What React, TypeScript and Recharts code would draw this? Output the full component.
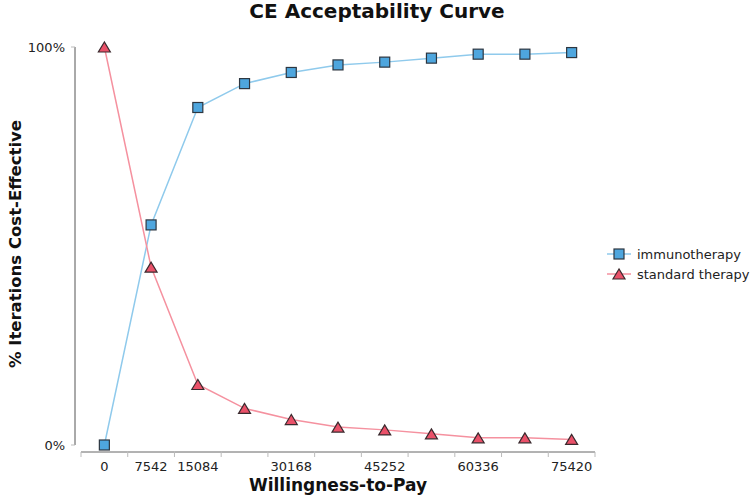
import { LineChart, Line, XAxis, YAxis, Legend, Label } from "recharts";

const WTP = [0, 7542, 15084, 22626, 30168, 37710, 45252, 52794, 60336, 67878, 75420];
const IMMUNOTHERAPY = [0, 55.3, 84.8, 90.8, 93.6, 95.5, 96.2, 97.2, 98.2, 98.2, 98.6];
const STANDARD_THERAPY = [100, 44.7, 15.2, 9.2, 6.4, 4.5, 3.8, 2.8, 1.8, 1.8, 1.4];
const SHOWN_TICKS = [0, 7542, 15084, 30168, 45252, 60336, 75420];
const Y_TICKS = [0, 100];

const chartData = WTP.map((wtp, i) => ({
    wtp,
    immunotherapy: IMMUNOTHERAPY[i],
    standard: STANDARD_THERAPY[i],
}));

const FONT = "'DejaVu Sans', Verdana, sans-serif";
const BLUE_FILL = "#4ea6de";
const BLUE_LINE = "#8fcaec";
const RED_FILL = "#ea5169";
const RED_LINE = "#f5919f";
const STEP = 514 / 11; // band width on the x axis

const square = (cx: number, cy: number, key?: string) => (
    <rect key={key} x={cx - 5} y={cy - 5} width={10} height={10} fill={BLUE_FILL} stroke="#2d3640" strokeWidth={1.2} />
);

const triangle = (cx: number, cy: number, key?: string) => (
    <polygon
        key={key}
        points={`${cx},${cy - 5} ${cx - 6},${cy + 5} ${cx + 6},${cy + 5}`}
        fill={RED_FILL}
        stroke="#3a2a2e"
        strokeWidth={1.2}
    />
);

const XTick = (props: any) => {
    const { x, y, payload, index } = props;
    const half = STEP / 2;
    const base = y + 7;
    return (
        <g>
            <line x1={x - half} x2={x + half} y1={base} y2={base} stroke="#666" />
            <line x1={x - half} x2={x - half} y1={base} y2={base + 5} stroke="#bbb" />
            {index === WTP.length - 1 && (
                <line x1={x + half} x2={x + half} y1={base} y2={base + 5} stroke="#bbb" />
            )}
            {SHOWN_TICKS.includes(payload.value) && (
                <text x={x} y={base + 19} textAnchor="middle" fontSize={13} fill="#222" fontFamily={FONT}>
                    {payload.value}
                </text>
            )}
        </g>
    );
};

const renderLegend = () => {
    const rows = [
        { name: "immunotherapy", color: BLUE_LINE, marker: square },
        { name: "standard therapy", color: RED_LINE, marker: triangle },
    ];
    return (
        <svg width={150} height={44}>
            {rows.map((r, i) => {
                const cy = 10 + i * 20;
                return (
                    <g key={r.name}>
                        <line x1={2} x2={26} y1={cy} y2={cy} stroke={r.color} strokeWidth={1.5} />
                        {r.marker(14, cy)}
                        <text x={32} y={cy} dominantBaseline="central" fontSize={13} fill="#222" fontFamily={FONT}>
                            {r.name}
                        </text>
                    </g>
                );
            })}
        </svg>
    );
};

export default function App() {
    return (
        <div style={{ position: "absolute", left: 0, top: 0, width: 754, height: 502, background: "#fff" }}>
            <div
                style={{
                    position: "absolute",
                    left: 0,
                    top: 0,
                    width: 754,
                    textAlign: "center",
                    fontFamily: FONT,
                    fontWeight: "bold",
                    fontSize: 20,
                    lineHeight: "23px",
                    color: "#111",
                }}
            >
                CE Acceptability Curve
            </div>
            <LineChart width={754} height={502} data={chartData} margin={{ top: 47, right: 159, bottom: 0, left: 0 }}>
                <XAxis
                    dataKey="wtp"
                    height={57}
                    interval={0}
                    tickSize={0}
                    tickMargin={0}
                    axisLine={false}
                    tickLine={false}
                    padding={{ left: 6 + STEP / 2, right: STEP / 2 }}
                    tick={<XTick />}
                >
                    <Label
                        value="Willingness-to-Pay"
                        position="insideBottom"
                        offset={11}
                        dx={3}
                        style={{ fontFamily: FONT, fontWeight: "bold", fontSize: 17, fill: "#111" }}
                    />
                </XAxis>
                <YAxis
                    width={75}
                    domain={[0, 100]}
                    ticks={Y_TICKS}
                    tickFormatter={(v: number) => `${v}%`}
                    tickSize={4}
                    tickMargin={6}
                    axisLine={{ stroke: "#555" }}
                    tickLine={{ stroke: "#bbb" }}
                    tick={{ fontSize: 13, fill: "#222", fontFamily: FONT }}
                >
                    <Label
                        content={() => (
                            <text
                                x={15}
                                y={244}
                                transform="rotate(-90 15 244)"
                                textAnchor="middle"
                                dominantBaseline="central"
                                fontFamily={FONT}
                                fontWeight="bold"
                                fontSize={16.5}
                                fill="#111"
                            >
                                % Iterations Cost-Effective
                            </text>
                        )}
                    />
                </YAxis>
                <Legend
                    layout="horizontal"
                    align="center"
                    verticalAlign="middle"
                    content={renderLegend}
                    wrapperStyle={{ left: 605, top: 244, width: 150, height: 44 }}
                />
                <Line
                    dataKey="immunotherapy"
                    name="immunotherapy"
                    stroke={BLUE_LINE}
                    strokeWidth={1.5}
                    isAnimationActive={false}
                    dot={(p: any) => square(p.cx, p.cy, `sq-${p.index}`)}
                    activeDot={false}
                />
                <Line
                    dataKey="standard"
                    name="standard therapy"
                    stroke={RED_LINE}
                    strokeWidth={1.5}
                    isAnimationActive={false}
                    dot={(p: any) => triangle(p.cx, p.cy, `tr-${p.index}`)}
                    activeDot={false}
                />
            </LineChart>
        </div>
    );
}
